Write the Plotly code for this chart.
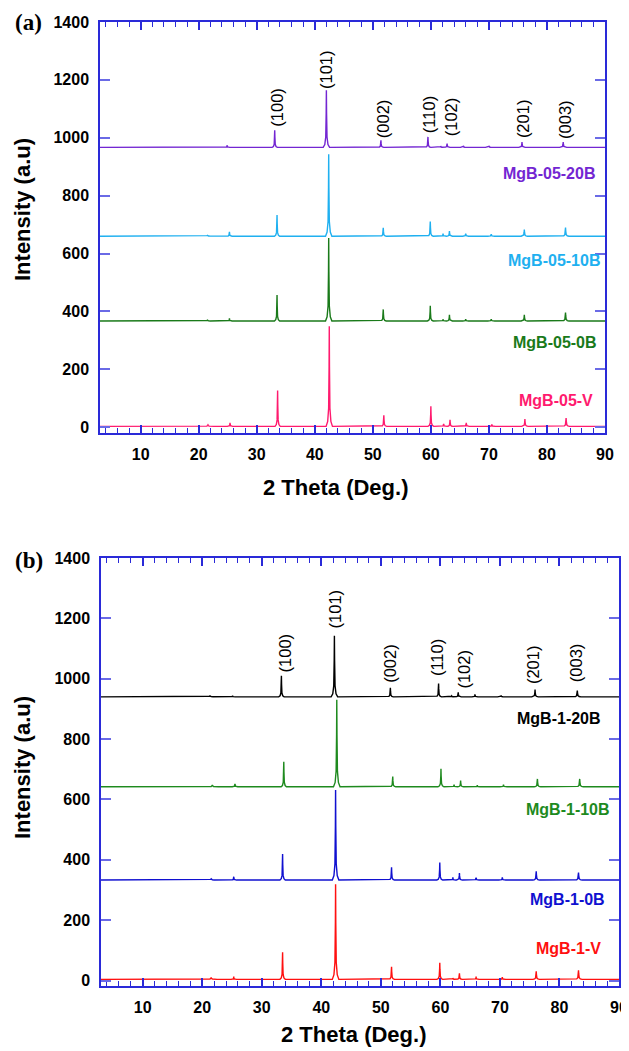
import plotly.graph_objects as go

# page body has an 8px margin; figure occupies the rest of the 629x1051 window
OFF = 8
W, H = 629 - OFF, 1051 - OFF

# ---------------- data ----------------
# reflection positions (2theta, deg) shared by all patterns
peak_pos = [21.5, 25.3, 33.5, 42.4, 51.8, 59.9, 62.1, 63.2, 66.0, 70.4, 76.1, 83.2]
peak_wid = [2.0, 0.9, 0.9, 1.1, 1.0, 1.0, 0.9, 1.0, 1.0, 1.2, 1.1, 1.2]

# panel (a)
a_names = ["MgB-05-V", "MgB-05-0B", "MgB-05-10B", "MgB-05-20B"]
a_colors = ["#ff1a6e", "#1a7a1a", "#1fb0f0", "#7326d2"]
a_base = [3, 367, 660, 967]
a_shift = [0.1, 0.0, 0.0, -0.4]
a_heights = [
    [5, 12, 124, 346, 38, 69, 9, 23, 12, 7, 25, 29],
    [3, 9, 90, 287, 40, 53, 6, 21, 6, 6, 21, 29],
    [3, 15, 73, 283, 29, 51, 9, 18, 9, 7, 23, 30],
    [2, 7, 59, 197, 24, 36, 4, 13, 5, 5, 18, 18],
]
a_label_xy = [(88.3, 93), (89.0, 294), (89.5, 577), (88.6, 878)]

# panel (b)
b_names = ["MgB-1-V", "MgB-1-0B", "MgB-1-10B", "MgB-1-20B"]
b_colors = ["#ff1010", "#1010d0", "#1e8a1e", "#000000"]
b_base = [4, 333, 642, 940]
b_shift = [0.0, 0.0, 0.2, -0.2]
b_heights = [
    [6, 9, 90, 315, 42, 55, 4, 20, 9, 7, 27, 30],
    [4, 11, 86, 298, 42, 58, 9, 23, 8, 9, 29, 25],
    [6, 10, 83, 288, 34, 60, 7, 21, 5, 7, 26, 26],
    [3, 4, 70, 202, 30, 44, 3, 15, 8, 4, 24, 21],
]
b_label_xy = [(87.3, 106), (88.0, 268), (88.8, 566), (87.3, 867)]

# Miller index labels
hkl = ["(100)", "(101)", "(002)", "(110)", "(102)", "(201)", "(003)"]
a_hkl_x = [33.5, 41.9, 51.8, 59.6, 63.4, 75.9, 83.1]
a_hkl_y = [1104, 1237, 1065, 1080, 1073, 1065, 1065]
b_hkl_x = [33.9, 42.3, 51.5, 59.4, 64.0, 75.6, 82.8]
b_hkl_y = [1087, 1233, 1052, 1071, 1031, 1046, 1052]

X_MIN, X_MAX = 3, 90

# peak drawing profile (style): offset fraction of width, fraction of height
prof_dx = [-1.0, -0.5, -0.2, -0.06, 0.0, 0.06, 0.2, 0.5, 1.0]
prof_fy = [0.0, 0.05, 0.18, 0.6, 1.0, 0.6, 0.18, 0.05, 0.0]


def pattern(base, shift, heights):
    xs, ys = [X_MIN], [base]
    for c, w, h in zip(peak_pos, peak_wid, heights):
        for dx, fy in zip(prof_dx, prof_fy):
            xs.append(c + shift + dx * w * 0.5)
            ys.append(base + fy * h)
    xs.append(X_MAX)
    ys.append(base)
    return xs, ys


fig = go.Figure()

for i in range(4):
    x, y = pattern(a_base[i], a_shift[i], a_heights[i])
    fig.add_trace(go.Scatter(x=x, y=y, mode="lines", name=a_names[i],
                             line=dict(color=a_colors[i], width=1.4),
                             xaxis="x", yaxis="y", showlegend=False))
for i in range(4):
    x, y = pattern(b_base[i], b_shift[i], b_heights[i])
    fig.add_trace(go.Scatter(x=x, y=y, mode="lines", name=b_names[i],
                             line=dict(color=b_colors[i], width=1.4),
                             xaxis="x2", yaxis="y2", showlegend=False))

FONT = "Liberation Sans, Arial, sans-serif"
LINE_C = "#2a2ad8"
TICK_C = "#6a6ae6"


def xax(domain, anchor):
    return dict(domain=domain, anchor=anchor, range=[X_MIN, X_MAX],
                automargin=False,
                tick0=0, dtick=10, ticks="inside", ticklen=8, tickwidth=1.5,
                tickcolor=LINE_C,
                minor=dict(dtick=2, ticks="inside", ticklen=5, tickwidth=1,
                           tickcolor=LINE_C),
                showline=True, linecolor=LINE_C, linewidth=1.5,
                mirror="allticks", showgrid=False, zeroline=False,
                ticklabelstandoff=6,
                tickfont=dict(family=FONT, size=16, color="black",
                              weight="bold"))


def yax(domain, anchor, ymin):
    return dict(domain=domain, anchor=anchor, range=[ymin, 1400],
                automargin=False,
                tick0=0, dtick=200, ticks="inside", ticklen=10, tickwidth=1.5,
                tickcolor=TICK_C,
                showline=True, linecolor=LINE_C, linewidth=1.5,
                mirror="allticks", showgrid=False, zeroline=False,
                ticklabelstandoff=6,
                tickfont=dict(family=FONT, size=16, color="black",
                              weight="bold"))


def px_x(p):
    return (p - OFF) / W


def px_y(p):
    return 1 - (p - OFF) / H


fig.update_layout(
    width=W, height=H,
    margin=dict(l=0, r=0, t=0, b=0, autoexpand=False),
    paper_bgcolor="white", plot_bgcolor="white",
    showlegend=False,
    xaxis=xax([px_x(100), px_x(605)], "y"),
    yaxis=yax([px_y(433), px_y(22)], "x", -20),
    xaxis2=xax([px_x(101), px_x(619)], "y2"),
    yaxis2=yax([px_y(986), px_y(558)], "x2", -18),
)

ann = []
# series labels
for (lx, ly), name, col in zip(a_label_xy, a_names, a_colors):
    ann.append(dict(x=lx, y=ly, xref="x", yref="y", text=name, showarrow=False,
                    xanchor="right", yanchor="middle",
                    font=dict(family=FONT, size=16, color=col, weight="bold")))
for (lx, ly), name, col in zip(b_label_xy, b_names, b_colors):
    ann.append(dict(x=lx, y=ly, xref="x2", yref="y2", text=name, showarrow=False,
                    xanchor="right", yanchor="middle",
                    font=dict(family=FONT, size=16, color=col, weight="bold")))
# hkl labels
for t, hx, hy in zip(hkl, a_hkl_x, a_hkl_y):
    ann.append(dict(x=hx, y=hy, xref="x", yref="y", text=t, showarrow=False,
                    textangle=-90, xanchor="center", yanchor="middle",
                    font=dict(family=FONT, size=16.5, color="black")))
for t, hx, hy in zip(hkl, b_hkl_x, b_hkl_y):
    ann.append(dict(x=hx, y=hy, xref="x2", yref="y2", text=t, showarrow=False,
                    textangle=-90, xanchor="center", yanchor="middle",
                    font=dict(family=FONT, size=16.5, color="black")))
# axis titles
for cx, cy in [(335, 487), (353, 1034)]:
    ann.append(dict(x=px_x(cx), y=px_y(cy), xref="paper", yref="paper",
                    text="2 Theta (Deg.)", showarrow=False,
                    xanchor="center", yanchor="middle",
                    font=dict(family=FONT, size=22, color="black", weight="bold")))
for cx, cy in [(22, 210), (22, 768)]:
    ann.append(dict(x=px_x(cx), y=px_y(cy), xref="paper", yref="paper",
                    text="Intensity (a.u)", showarrow=False, textangle=-90,
                    xanchor="center", yanchor="middle",
                    font=dict(family=FONT, size=22, color="black", weight="bold")))
# panel letters
for t, cx, cy in [("(a)", 28, 23), ("(b)", 29, 560)]:
    ann.append(dict(x=px_x(cx), y=px_y(cy), xref="paper", yref="paper",
                    text=t, showarrow=False, xanchor="center", yanchor="middle",
                    font=dict(family="Liberation Serif, Times New Roman, serif",
                              size=23, color="black", weight="bold")))

fig.update_layout(annotations=ann)

fig.write_html("out.html")
